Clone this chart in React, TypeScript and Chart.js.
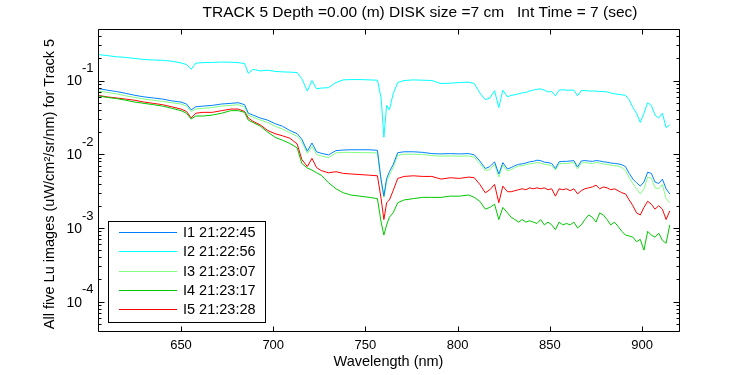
import React, { useEffect, useRef } from "react";
import { Chart, registerables } from "chart.js";

Chart.register(...registerables);

// Wavelength grid (nm)
const wavelengths = [
  605, 610, 615, 620, 625, 630, 635, 640, 645, 650, 653, 655.5, 658, 662, 667, 672, 677, 681, 684.5, 686.5,
  689, 693, 697, 701, 705, 709, 713, 715.5, 718.5, 721, 723.5, 726, 730, 734, 738, 742, 747, 752, 756.5, 758.5,
  760, 761.5, 763, 765, 767.5, 771, 776, 781, 786, 791, 796, 801, 806, 809, 812, 815, 817.5, 820, 822.3, 824.5,
  827, 829, 831, 833, 835, 837, 839, 841, 843, 845, 847, 849, 851, 853, 855, 857, 859, 861, 863, 865,
  867, 869, 871, 873, 875, 877, 879, 881, 883, 885, 887, 889, 891, 893, 895, 897, 899, 901, 903, 905,
  907, 909, 911, 913, 915,
];

const i1Values = [
  0.078, 0.074, 0.071, 0.067, 0.063, 0.06, 0.058, 0.056, 0.053, 0.051, 0.048, 0.04, 0.044, 0.045, 0.046, 0.048, 0.049, 0.05, 0.047, 0.036,
  0.034, 0.031, 0.029, 0.026, 0.024, 0.021, 0.019, 0.016, 0.011, 0.0142, 0.0108, 0.0103, 0.0098, 0.0112, 0.0114, 0.0115, 0.0115, 0.0115, 0.0113, 0.0045,
  0.0027, 0.0047, 0.0058, 0.0072, 0.0105, 0.0108, 0.0108, 0.0106, 0.0102, 0.0101, 0.0102, 0.0101, 0.0102, 0.0098, 0.0081, 0.0064, 0.0068, 0.0079, 0.0054, 0.0077,
  0.0063, 0.0066, 0.007, 0.0073, 0.0074, 0.0076, 0.0079, 0.008, 0.0083, 0.0082, 0.0078, 0.0077, 0.0075, 0.0064, 0.0079, 0.008, 0.008, 0.0081, 0.0082, 0.0067,
  0.0081, 0.0082, 0.0081, 0.008, 0.0082, 0.0081, 0.0079, 0.0078, 0.0076, 0.0075, 0.0074, 0.0072, 0.0068, 0.0055, 0.0046, 0.0041, 0.0037, 0.0042, 0.0057, 0.0055,
  0.0042, 0.004, 0.0046, 0.0034, 0.0029,
];

const i2Values = [
  0.225, 0.218, 0.21, 0.206, 0.199, 0.193, 0.19, 0.188, 0.183, 0.173, 0.165, 0.142, 0.172, 0.175, 0.176, 0.178, 0.177, 0.175, 0.17, 0.125,
  0.142, 0.135, 0.138, 0.133, 0.131, 0.13, 0.128, 0.106, 0.072, 0.1, 0.077, 0.079, 0.08, 0.094, 0.102, 0.103, 0.103, 0.102, 0.101, 0.058,
  0.017, 0.046, 0.04, 0.066, 0.094, 0.1, 0.102, 0.101, 0.1, 0.091, 0.092, 0.094, 0.095, 0.091, 0.068, 0.055, 0.058, 0.073, 0.043, 0.074,
  0.06, 0.063, 0.064, 0.066, 0.068, 0.069, 0.072, 0.074, 0.076, 0.077, 0.074, 0.07, 0.071, 0.062, 0.074, 0.075, 0.074, 0.074, 0.074, 0.062,
  0.073, 0.073, 0.072, 0.072, 0.072, 0.071, 0.071, 0.07, 0.068, 0.066, 0.065, 0.064, 0.063, 0.055, 0.043, 0.036, 0.027, 0.036, 0.05, 0.046,
  0.034, 0.031, 0.036, 0.023, 0.025,
];

const i3Values = [
  0.072, 0.069, 0.066, 0.062, 0.059, 0.056, 0.054, 0.052, 0.05, 0.048, 0.045, 0.038, 0.041, 0.042, 0.043, 0.045, 0.046, 0.047, 0.044, 0.034,
  0.032, 0.029, 0.027, 0.024, 0.022, 0.0195, 0.0175, 0.0148, 0.0103, 0.0128, 0.0099, 0.0095, 0.009, 0.0104, 0.0106, 0.0106, 0.0105, 0.0105, 0.0104, 0.0042,
  0.0026, 0.0043, 0.0052, 0.0066, 0.0097, 0.01, 0.01, 0.0099, 0.0096, 0.0094, 0.0095, 0.0094, 0.0095, 0.0091, 0.0075, 0.006, 0.0062, 0.0073, 0.0049, 0.0071,
  0.0059, 0.0062, 0.0066, 0.0069, 0.007, 0.0072, 0.0074, 0.0075, 0.0077, 0.0076, 0.0073, 0.0072, 0.007, 0.0061, 0.0074, 0.0075, 0.0075, 0.0076, 0.0077, 0.0063,
  0.0076, 0.0077, 0.0076, 0.0075, 0.0077, 0.0076, 0.0074, 0.0073, 0.0071, 0.007, 0.0069, 0.0066, 0.006, 0.0048, 0.004, 0.0034, 0.0029, 0.0034, 0.0049, 0.0047,
  0.0035, 0.0034, 0.0039, 0.0025, 0.0022,
];

const i4Values = [
  0.062, 0.059, 0.057, 0.054, 0.051, 0.049, 0.047, 0.045, 0.042, 0.039, 0.036, 0.03, 0.033, 0.033, 0.034, 0.036, 0.039, 0.039, 0.037, 0.029,
  0.027, 0.024, 0.02, 0.017, 0.0155, 0.014, 0.0122, 0.0075, 0.0065, 0.0061, 0.0056, 0.0052, 0.0041, 0.0034, 0.003, 0.0028, 0.0027, 0.0026, 0.0025, 0.0012,
  0.0008, 0.0011, 0.0014, 0.0016, 0.0022, 0.0024, 0.0025, 0.0026, 0.0026, 0.0026, 0.0027, 0.0027, 0.0028, 0.0026, 0.0023, 0.0018, 0.0019, 0.0021, 0.0013, 0.0019,
  0.0016, 0.0014, 0.0013, 0.0012, 0.0013, 0.0012, 0.00125, 0.0012, 0.00115, 0.0013, 0.0011, 0.0012, 0.0011, 0.00095, 0.0012, 0.0011, 0.00115, 0.0011, 0.0012, 0.001,
  0.0011, 0.0013, 0.0015, 0.0014, 0.0012, 0.0016, 0.0015, 0.0013, 0.0011, 0.0012, 0.00105, 0.0009, 0.0008, 0.00078, 0.00075, 0.00065, 0.0007, 0.0005, 0.0009, 0.0008,
  0.00075, 0.00085, 0.00068, 0.00062, 0.0011,
];

const i5Values = [
  0.063, 0.06, 0.058, 0.056, 0.054, 0.051, 0.049, 0.047, 0.044, 0.041, 0.038, 0.031, 0.036, 0.037, 0.037, 0.039, 0.041, 0.041, 0.038, 0.031,
  0.028, 0.025, 0.021, 0.019, 0.0178, 0.0165, 0.0138, 0.0085, 0.0068, 0.0088, 0.0066, 0.006, 0.0056, 0.0058, 0.0055, 0.0054, 0.0053, 0.0052, 0.0051, 0.0025,
  0.0013, 0.0022, 0.0024, 0.0032, 0.0047, 0.005, 0.0051, 0.005, 0.005, 0.0046, 0.0048, 0.0047, 0.0049, 0.0048, 0.0039, 0.003, 0.0033, 0.0039, 0.0022, 0.0037,
  0.0031, 0.0031, 0.0032, 0.0033, 0.0034, 0.0033, 0.0035, 0.0034, 0.0035, 0.0034, 0.0035, 0.0033, 0.0034, 0.0027, 0.0034, 0.0033, 0.0034, 0.0032, 0.0034, 0.0029,
  0.0032, 0.0034, 0.0035, 0.0036, 0.0038, 0.0034, 0.0036, 0.0035, 0.0033, 0.0034, 0.0032, 0.003, 0.0029, 0.0024, 0.002, 0.0016, 0.0015, 0.0019, 0.0023, 0.0021,
  0.0018, 0.002, 0.0018, 0.0013, 0.0017,
];

const seriesLabels = ["I1 21:22:45", "I2 21:22:56", "I3 21:23:07", "I4 21:23:17", "I5 21:23:28"];
const seriesColors = ["#0080ff", "#00ffff", "#80ff80", "#00c800", "#ff0000"];
const seriesValues = [i1Values, i2Values, i3Values, i4Values, i5Values];

const xTickValues = [650, 700, 750, 800, 850, 900];
const yDecadeValues = [1e-4, 1e-3, 1e-2, 1e-1];
const yDecadeExponents = ["-4", "-3", "-2", "-1"];

const titleText = "TRACK 5 Depth =0.00 (m) DISK size =7 cm   Int Time = 7 (sec)";
const xTitle = "Wavelength (nm)";
const yTitle = "All five Lu images (uW/cm\u00B2/sr/nm) for Track 5";

const FONT = "'Liberation Sans', Arial, Helvetica, sans-serif";

const decorPlugin = {
  id: "decor",
  afterDraw(chart: any) {
    const ctx: CanvasRenderingContext2D = chart.ctx;
    const a = chart.chartArea;
    const xs = chart.scales.x;
    const ys = chart.scales.y;
    const L = Math.round(a.left) + 0.5;
    const R = Math.round(a.right) + 0.5;
    const T = Math.round(a.top) + 0.5;
    const B = Math.round(a.bottom) + 0.5;
    ctx.save();
    ctx.strokeStyle = "#000";
    ctx.lineWidth = 1;
    ctx.beginPath();
    ctx.rect(L, T, R - L, B - T);
    ctx.stroke();

    // x ticks (inward, top and bottom)
    ctx.beginPath();
    xTickValues.forEach((v) => {
      const px = Math.round(xs.getPixelForValue(v)) + 0.5;
      ctx.moveTo(px, B);
      ctx.lineTo(px, B - 5);
      ctx.moveTo(px, T);
      ctx.lineTo(px, T + 5);
    });
    // y ticks (major and minor, inward, left and right)
    const yMin = ys.min;
    const yMax = ys.max;
    for (let d = 1e-5; d <= 1; d *= 10) {
      for (let m = 1; m <= 9; m++) {
        const v = m * d;
        if (v < yMin || v > yMax) continue;
        const py = Math.round(ys.getPixelForValue(v)) + 0.5;
        const len = m === 1 ? 6 : 3;
        ctx.moveTo(L, py);
        ctx.lineTo(L + len, py);
        ctx.moveTo(R, py);
        ctx.lineTo(R - len, py);
      }
    }
    ctx.stroke();

    ctx.fillStyle = "#000";
    // x tick labels
    ctx.font = `13px ${FONT}`;
    ctx.textAlign = "center";
    ctx.textBaseline = "middle";
    xTickValues.forEach((v) => {
      ctx.fillText(String(v), xs.getPixelForValue(v), 345);
    });
    // y tick labels with superscript exponent
    yDecadeValues.forEach((v, i) => {
      const py = ys.getPixelForValue(v);
      ctx.font = `14px ${FONT}`;
      ctx.textAlign = "right";
      ctx.textBaseline = "middle";
      ctx.fillText("10", 82, py + 1);
      ctx.font = `13px ${FONT}`;
      ctx.textAlign = "left";
      ctx.fillText(yDecadeExponents[i], 82, py - 12);
    });

    // titles
    ctx.textAlign = "center";
    ctx.textBaseline = "middle";
    ctx.font = `15.5px ${FONT}`;
    ctx.fillText(titleText, 420, 13);
    ctx.font = `14.5px ${FONT}`;
    ctx.fillText(xTitle, (a.left + a.right) / 2, 362);
    ctx.save();
    ctx.translate(50, 184);
    ctx.rotate(-Math.PI / 2);
    ctx.fillText(yTitle, 0, 0);
    ctx.restore();

    // legend
    const lx = 108.5, ly = 221.5, lw = 157, lh = 101;
    ctx.fillStyle = "#fff";
    ctx.fillRect(lx, ly, lw, lh);
    ctx.strokeStyle = "#000";
    ctx.strokeRect(lx, ly, lw, lh);
    ctx.font = `14.5px ${FONT}`;
    ctx.textAlign = "left";
    ctx.textBaseline = "middle";
    seriesLabels.forEach((label, i) => {
      const ry = Math.round(232 + i * 19.3) + 0.5;
      ctx.strokeStyle = seriesColors[i];
      ctx.beginPath();
      ctx.moveTo(119, ry);
      ctx.lineTo(177, ry);
      ctx.stroke();
      ctx.fillStyle = "#000";
      ctx.fillText(label, 183, ry);
    });
    ctx.restore();
  },
};

export default function App() {
  const canvasRef = useRef<HTMLCanvasElement | null>(null);

  useEffect(() => {
    const canvas = canvasRef.current;
    if (!canvas) return;
    const chart = new Chart(canvas, {
      type: "line",
      data: {
        datasets: seriesValues.map((vals, i) => ({
          label: seriesLabels[i],
          data: wavelengths.map((w, k) => ({ x: w, y: vals[k] })),
          borderColor: seriesColors[i],
          backgroundColor: seriesColors[i],
          borderWidth: 1,
          pointRadius: 0,
          tension: 0,
          fill: false,
        })),
      },
      options: {
        responsive: false,
        devicePixelRatio: 1,
        animation: false,
        layout: { padding: { left: 98, top: 29, right: 71, bottom: 44 } },
        plugins: {
          legend: { display: false },
          title: { display: false },
          tooltip: { enabled: false },
        },
        scales: {
          x: { type: "linear", min: 605, max: 920, display: false },
          y: { type: "logarithmic", min: 4e-5, max: 0.5, display: false },
        },
      },
      plugins: [decorPlugin],
    });
    return () => chart.destroy();
  }, []);

  return (
    <div style={{ position: "absolute", left: 0, top: 0, width: 750, height: 375, background: "#fff" }}>
      <canvas ref={canvasRef} width={750} height={375} style={{ display: "block", width: 750, height: 375 }} />
    </div>
  );
}
